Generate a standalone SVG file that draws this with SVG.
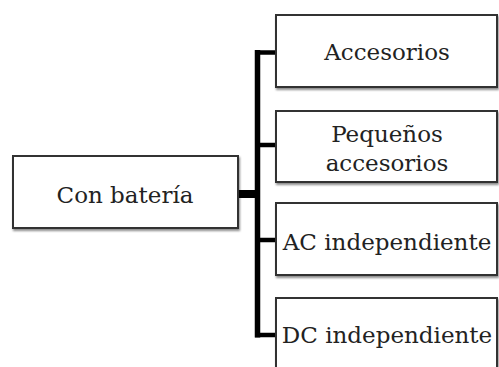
<svg xmlns="http://www.w3.org/2000/svg" width="499" height="367" viewBox="0 0 499 367">
<defs>
<filter id="sh" x="-10%" y="-10%" width="130%" height="140%">
<feDropShadow dx="1" dy="2" stdDeviation="1.2" flood-color="#000" flood-opacity="0.45"/>
</filter>
<style>
.box{fill:#fff;stroke:#333;stroke-width:2;filter:url(#sh)}
.t{font-family:"DejaVu Serif","Liberation Serif",serif;font-size:23px;fill:#222;text-anchor:middle}
.c{stroke:#000;fill:none;stroke-linecap:butt}
</style>
</defs>
<rect width="499" height="367" fill="#fff"/>
<g id="connectors">
<path class="c" d="M257.5 50 V337.5" stroke-width="5.5"/>
<path class="c" d="M255 52.5 H277" stroke-width="4.5"/>
<path class="c" d="M255 145 H277" stroke-width="4.5"/>
<path class="c" d="M255 240 H277" stroke-width="4.5"/>
<path class="c" d="M255 335 H277" stroke-width="4.5"/>
<path class="c" d="M237 194 H258" stroke-width="8"/>
</g>
<g id="root">
<rect class="box" x="13" y="156" width="225" height="72"/>
<text class="t" x="125" y="203">Con batería</text>
</g>
<g id="accesorios">
<rect class="box" x="276" y="15" width="221" height="72"/>
<text class="t" x="387" y="60">Accesorios</text>
</g>
<g id="pequenos">
<rect class="box" x="276" y="111" width="221" height="71"/>
<text class="t" x="387" y="142">Pequeños</text>
<text class="t" x="387" y="171">accesorios</text>
</g>
<g id="ac">
<rect class="box" x="276" y="203" width="221" height="72"/>
<text class="t" x="387" y="250">AC independiente</text>
</g>
<g id="dc">
<rect class="box" x="276" y="298" width="221" height="75"/>
<text class="t" x="387" y="343">DC independiente</text>
</g>
</svg>
